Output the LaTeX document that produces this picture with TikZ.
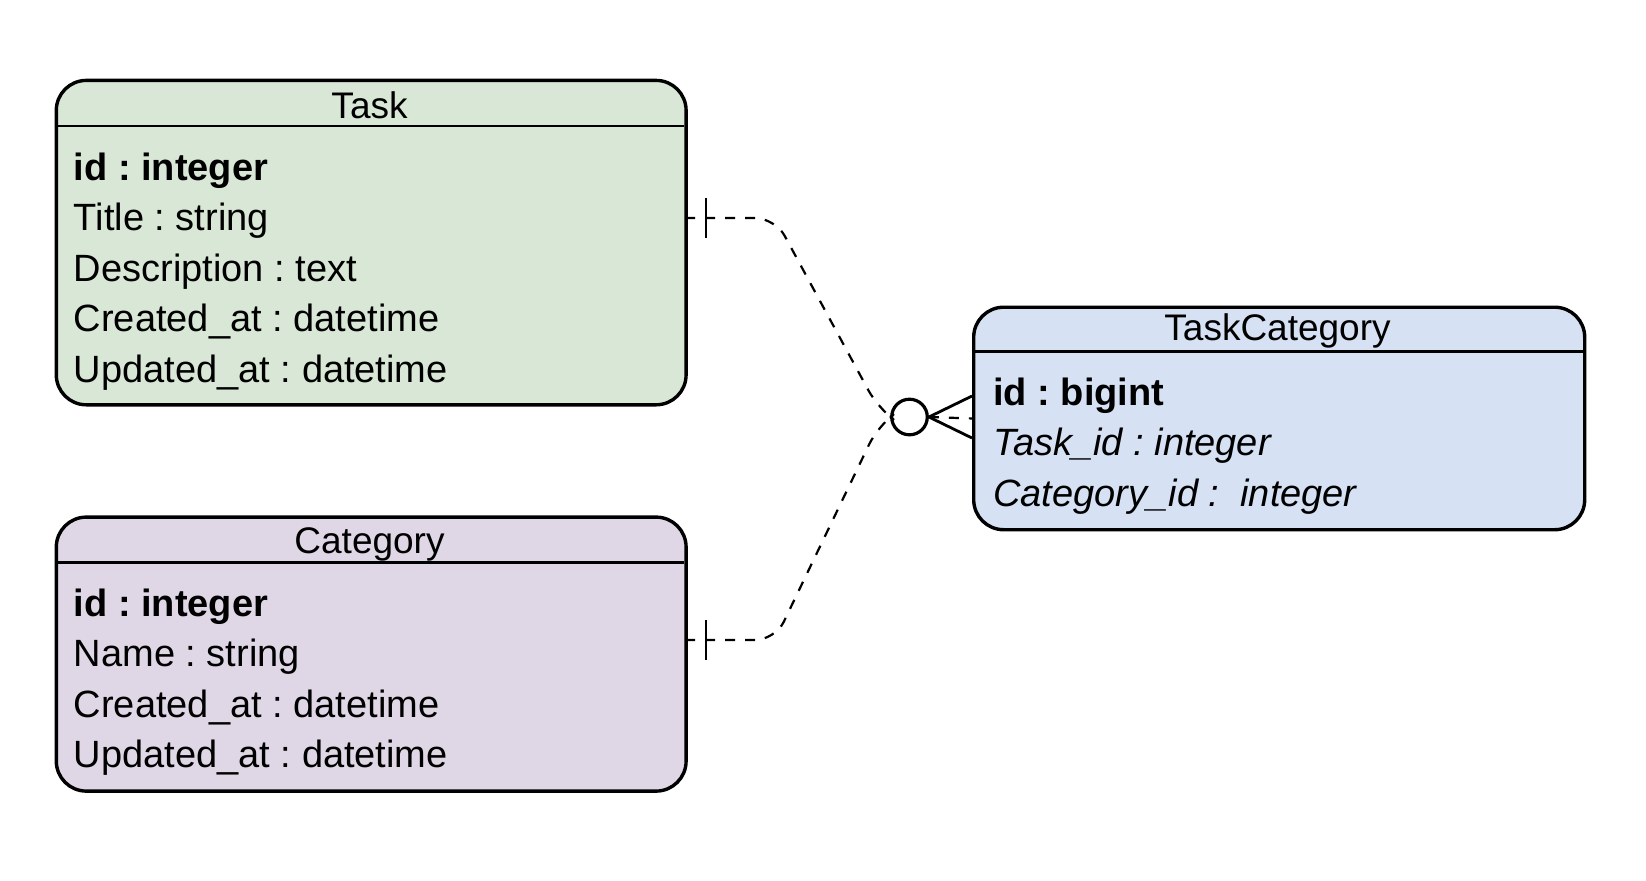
\documentclass[tikz,border=0pt]{standalone}
\usepackage{fontspec}
\setmainfont{Liberation Sans}
\frenchspacing
\definecolor{taskfill}{HTML}{D9E8D6}
\definecolor{catfill}{HTML}{E0D7E6}
\definecolor{tcfill}{HTML}{D6E2F4}
\begin{document}
\begin{tikzpicture}[x=0.5pt,y=-0.5pt,
  entity/.style={draw=black, line width=1.7pt, rounded corners=15pt, inner sep=0pt, anchor=north west},
  hdr/.style={line width=1.2pt},
  ttl/.style={anchor=base, inner sep=0pt, font=\fontsize{18.5pt}{22pt}\selectfont},
  row/.style={anchor=base west, inner sep=0pt, font=\fontsize{19pt}{22pt}\selectfont},
  conn/.style={line width=1.1pt, dash pattern=on 5pt off 5pt, rounded corners=10pt},
  tickline/.style={line width=1.4pt}
]
\useasboundingbox (0,0) rectangle (1646,880);
\fill[white] (0,0) rectangle (1646,880);

% Task
\node[entity, fill=taskfill, minimum width=314.9pt, minimum height=162.2pt] (task) at (54.6,78.7) {};
\draw[hdr] (54.6,126) -- (684.4,126);
\node[ttl] (taskT) at (369.5,118.5) {Task};
\node[row] (t1) at (73.5,180.5) {\bfseries id : integer};
\node[row] (t2) at (73.5,230.9) {Title : string};
\node[row] (t3) at (73.5,281.3) {Description : text};
\node[row] (t4) at (73.5,331.7) {Created\_at : datetime};
\node[row] (t5) at (73.5,382.1) {Updated\_at : datetime};

% Category
\node[entity, fill=catfill, minimum width=314.9pt, minimum height=137pt] (cat) at (54.6,515.4) {};
\draw[hdr] (54.6,562.6) -- (684.4,562.6);
\node[ttl] (catT) at (369.5,553) {Category};
\node[row] (c1) at (73.5,616) {\bfseries id : integer};
\node[row] (c2) at (73.5,666.5) {Name : string};
\node[row] (c3) at (73.5,717) {Created\_at : datetime};
\node[row] (c4) at (73.5,767.5) {Updated\_at : datetime};

% TaskCategory
\node[entity, fill=tcfill, minimum width=305.5pt, minimum height=111.25pt] (tc) at (972,305.5) {};
\draw[hdr] (972,351.6) -- (1583,351.6);
\node[ttl] (tcT) at (1277.5,340.5) {TaskCategory};
\node[row] (k1) at (993,405) {\bfseries id : bigint};
\node[row] (k2) at (993,455.5) {\itshape Task\_id : integer};
\node[row] (k3) at (993,506) {\itshape Category\_id : \ integer};

% connectors
\coordinate (taskend) at (685,218);
\coordinate (catend) at (685,640);
\node[draw, circle, line width=1.6pt, fill=white, minimum size=17.8pt, inner sep=0pt] (oc) at (909.5,417) {};
\draw[conn] (taskend) -- (775,218) -- (878,408) -- (oc.west);
\draw[conn] (catend) -- (775,640) -- (878,426) -- (oc.west);
\draw[tickline] (706,198) -- (706,238);
\draw[tickline] (706,620) -- (706,660);
\coordinate (cf1) at (972,396);
\coordinate (cf2) at (972,438);
\draw[tickline] (cf1) -- (oc.east) -- (cf2);
\draw[line width=1.1pt, dash pattern=on 5pt off 5pt] (oc.east) -- (tc.west);
\end{tikzpicture}
\end{document}
